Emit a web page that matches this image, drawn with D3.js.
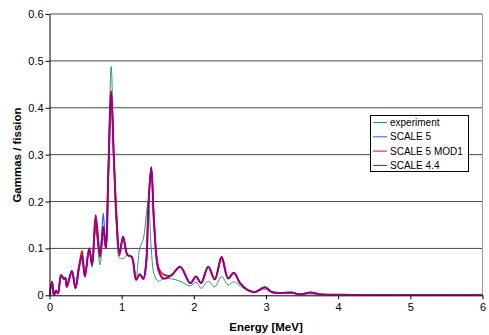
<!DOCTYPE html>
<html>
<head>
<meta charset="utf-8">
<script src="https://cdn.jsdelivr.net/npm/d3@7"></script>
<style>
  body { margin: 0; background: #fff; }
  text { font-family: "Liberation Sans", Arial, sans-serif; fill: #000; }
</style>
</head>
<body>
<svg id="chart" width="489" height="335"></svg>
<script>
// energy grid [MeV]
var energy = [0, 0.035, 0.062, 0.09, 0.118, 0.16, 0.20, 0.22, 0.24, 0.31, 0.36, 0.41, 0.45, 0.49, 0.55, 0.59, 0.64, 0.70, 0.745, 0.78, 0.815, 0.855, 0.89, 0.93, 0.97, 1.02, 1.08, 1.14, 1.20, 1.25, 1.30, 1.34, 1.37, 1.41, 1.45, 1.51, 1.575, 1.69, 1.81, 1.95, 2.03, 2.10, 2.20, 2.29, 2.385, 2.475, 2.555, 2.64, 2.75, 2.85, 2.985, 3.08, 3.19, 3.355, 3.47, 3.62, 3.75, 4.02, 4.58, 5.2, 6.0];

var experiment = [0, 0.005, 0.008, 0.008, 0.005, 0.038, 0.035, 0.033, 0.02, 0.045, 0.02, 0.065, 0.075, 0.045, 0.095, 0.06, 0.14, 0.065, 0.12, 0.11, 0.28, 0.488, 0.3, 0.14, 0.08, 0.078, 0.085, 0.08, 0.04, 0.1, 0.12, 0.17, 0.2, 0.1, 0.045, 0.03, 0.035, 0.035, 0.03, 0.02, 0.028, 0.015, 0.03, 0.018, 0.04, 0.022, 0.029, 0.02, 0.01, 0.007, 0.013, 0.006, 0.004, 0.004, 0.003, 0.003, 0.002, 0.002, 0.001, 0.001, 0.002];

var scale5 = [0, 0.029, 0, 0.01, 0.004, 0.043, 0.035, 0.037, 0.018, 0.052, 0.015, 0.061, 0.085, 0.04, 0.1, 0.065, 0.165, 0.08, 0.175, 0.1, 0.26, 0.435, 0.3, 0.16, 0.09, 0.125, 0.086, 0.082, 0.033, 0.045, 0.035, 0.07, 0.19, 0.273, 0.15, 0.054, 0.036, 0.043, 0.061, 0.026, 0.04, 0.026, 0.061, 0.034, 0.082, 0.036, 0.048, 0.026, 0.011, 0.007, 0.017, 0.007, 0.005, 0.006, 0.002, 0.006, 0.002, 0.001, 0, 0, 0];

var scale5mod1 = [0, 0.03, 0, 0.01, 0.004, 0.043, 0.035, 0.037, 0.018, 0.052, 0.015, 0.061, 0.095, 0.04, 0.1, 0.065, 0.15, 0.084, 0.145, 0.1, 0.26, 0.43, 0.3, 0.165, 0.085, 0.125, 0.086, 0.082, 0.033, 0.045, 0.035, 0.07, 0.19, 0.273, 0.155, 0.06, 0.045, 0.043, 0.061, 0.026, 0.04, 0.026, 0.061, 0.034, 0.078, 0.036, 0.048, 0.026, 0.011, 0.007, 0.017, 0.007, 0.005, 0.006, 0.002, 0.006, 0.002, 0.001, 0, 0, 0];

var scale44 = [0, 0.029, 0, 0.01, 0.004, 0.043, 0.035, 0.037, 0.018, 0.052, 0.015, 0.061, 0.085, 0.04, 0.1, 0.065, 0.171, 0.084, 0.146, 0.1, 0.26, 0.435, 0.3, 0.16, 0.09, 0.125, 0.086, 0.082, 0.033, 0.045, 0.035, 0.07, 0.19, 0.273, 0.15, 0.054, 0.036, 0.043, 0.061, 0.026, 0.04, 0.026, 0.061, 0.034, 0.082, 0.036, 0.048, 0.026, 0.011, 0.007, 0.017, 0.007, 0.005, 0.006, 0.002, 0.006, 0.002, 0.001, 0, 0, 0];

var xTicks = [0, 1, 2, 3, 4, 5, 6];
var yTicks = [0, 0.1, 0.2, 0.3, 0.4, 0.5, 0.6];

var seriesNames = ["experiment", "SCALE 5", "SCALE 5 MOD1", "SCALE 4.4"];
var seriesValues = [experiment, scale5, scale5mod1, scale44];
var seriesColors = ["#2e9a62", "#2f5bff", "#ff0000", "#990088"];
var seriesWidths = [1, 1.3, 1.6, 2];

var svg = d3.select("#chart");
var plotL = 49.5, plotR = 482.5, plotT = 14, plotB = 295.3;

var x = d3.scaleLinear().domain([0, 6]).range([plotL, plotR]);
var y = d3.scaleLinear().domain([0, 0.6]).range([plotB, plotT]);

// gridlines
svg.append("g")
  .selectAll("line")
  .data(yTicks.slice(1))
  .enter().append("line")
    .attr("x1", plotL).attr("x2", plotR)
    .attr("y1", function(d) { return y(d); })
    .attr("y2", function(d) { return y(d); })
    .attr("stroke", "#4a4a4a")
    .attr("stroke-width", 1);

// right border
svg.append("line")
  .attr("x1", plotR).attr("x2", plotR)
  .attr("y1", plotT).attr("y2", plotB)
  .attr("stroke", "#999");

svg.append("clipPath").attr("id", "clip")
  .append("rect")
  .attr("x", plotL).attr("y", plotT - 5)
  .attr("width", plotR - plotL).attr("height", plotB - plotT + 5);

var line = d3.line()
  .curve(d3.curveCatmullRom.alpha(0.5))
  .x(function(d) { return x(d[0]); })
  .y(function(d) { return y(d[1]); });

var plot = svg.append("g").attr("clip-path", "url(#clip)");
seriesValues.forEach(function(vals, i) {
  plot.append("path")
    .datum(energy.map(function(e, j) { return [e, vals[j]]; }))
    .attr("fill", "none")
    .attr("stroke", seriesColors[i])
    .attr("stroke-width", seriesWidths[i])
    .attr("stroke-linejoin", "round")
    .attr("d", line);
});

// axes
var xAxis = d3.axisBottom(x).tickValues(xTicks).tickSize(4).tickSizeOuter(0)
  .tickFormat(d3.format("d"));
var gx = svg.append("g")
  .attr("transform", "translate(0," + plotB + ")")
  .call(xAxis);
gx.select(".domain").attr("stroke", "#000");
gx.selectAll(".tick line").attr("stroke", "#000");
gx.selectAll(".tick text")
  .attr("font-size", "11px")
  .attr("font-family", "Liberation Sans, Arial, sans-serif")
  .attr("fill", "#222")
  .attr("dy", "0.8em");

var yAxis = d3.axisLeft(y).tickValues(yTicks).tickSize(4).tickSizeOuter(0)
  .tickFormat(function(d) { return d === 0 ? "0" : d3.format(".1f")(d); });
var gy = svg.append("g")
  .attr("transform", "translate(" + plotL + ",0)")
  .call(yAxis);
gy.select(".domain").attr("stroke", "#000");
gy.selectAll(".tick line").attr("stroke", "#000");
gy.selectAll(".tick text")
  .attr("font-size", "11px")
  .attr("font-family", "Liberation Sans, Arial, sans-serif")
  .attr("fill", "#222")
  .attr("x", -6);

// axis titles
svg.append("text")
  .attr("x", 266).attr("y", 331)
  .attr("text-anchor", "middle")
  .attr("font-size", "11.5px")
  .attr("font-weight", "bold")
  .text("Energy [MeV]");

svg.append("text")
  .attr("transform", "translate(21,155) rotate(-90)")
  .attr("text-anchor", "middle")
  .attr("font-size", "11.5px")
  .attr("font-weight", "bold")
  .text("Gammas / fission");

// legend
var legend = svg.append("g").attr("transform", "translate(370,115)");
legend.append("rect")
  .attr("x", 0.5).attr("y", 0.5)
  .attr("width", 98).attr("height", 56)
  .attr("fill", "#fff")
  .attr("stroke", "#000");

var items = legend.selectAll("g.item")
  .data(seriesNames)
  .enter().append("g")
    .attr("class", "item")
    .attr("transform", function(d, i) { return "translate(0," + (7.5 + i * 14.3) + ")"; });

items.append("line")
  .attr("x1", 3).attr("x2", 17)
  .attr("stroke", function(d, i) { return seriesColors[i]; })
  .attr("stroke-width", 1);

items.append("text")
  .attr("x", 20)
  .attr("dy", "0.35em")
  .attr("font-size", "10px")
  .text(function(d) { return d; });
</script>
</body>
</html>
